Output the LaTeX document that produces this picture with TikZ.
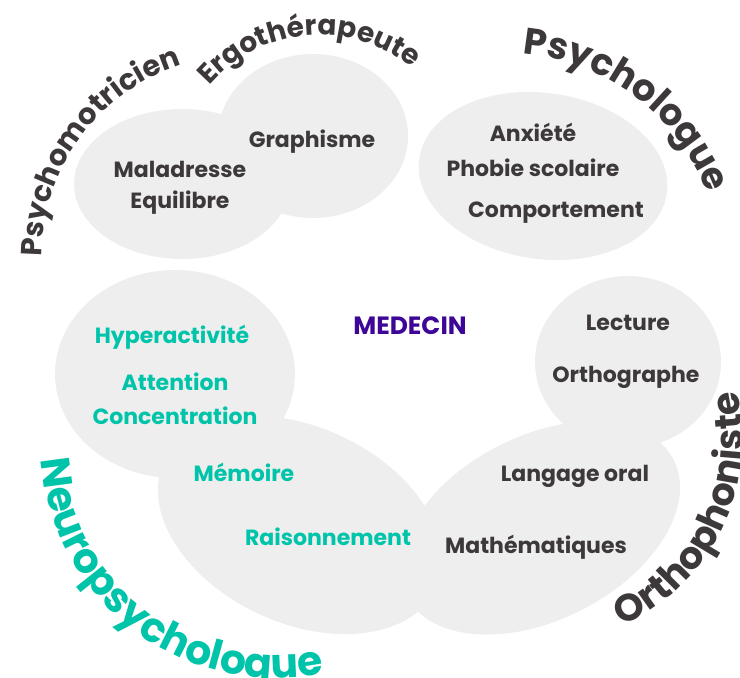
\documentclass[tikz,border=0pt]{standalone}
\usepackage{fontspec}
\setmainfont{Poppins}
\usetikzlibrary{positioning,decorations.text}
\definecolor{inkgrey}{RGB}{61,57,58}
\definecolor{tealgreen}{RGB}{0,196,170}
\definecolor{medpurple}{RGB}{62,6,150}
\definecolor{blobgrey}{RGB}{237,238,237}
\newcommand{\arcfont}[1]{\fontsize{#1}{#1}\selectfont\bfseries}

\begin{document}
\begin{tikzpicture}[
  x=1pt,y=1pt,
  every node/.style={font=\fontsize{22}{26}\selectfont\bfseries,inner sep=0pt},
  blob/.style={fill=blobgrey},
  term/.style={text=inkgrey,anchor=base},
  neuro/.style={text=tealgreen,anchor=base},
  arclabel/.style={decorate,decoration={text along path,text align=center,text color=#1}}
]
  \useasboundingbox (0,0) rectangle (740,-678);

  % bubbles
  \fill[blob] (182,-184) ellipse[x radius=108,y radius=75];
  \fill[blob] (313,-136) ellipse[x radius=95,y radius=82];
  \fill[blob,rotate around={-8:(543,-176)}] (543,-176) ellipse[x radius=125,y radius=83];
  \fill[blob] (175,-374) ellipse[x radius=120,y radius=104];
  \fill[blob,rotate around={-25:(300,-525)}] (300,-525) ellipse[x radius=150,y radius=98];
  \fill[blob,rotate around={27:(540,-528)}] (540,-528) ellipse[x radius=150,y radius=92];
  \fill[blob] (628,-362) ellipse[x radius=93,y radius=86];

  % professions
  \path[arclabel=inkgrey,decoration={text={|\arcfont{29}|Psychomotricien}}]
    (244,-257) ++(204:202) arc[start angle=204,end angle=84,radius=202];
  \path[arclabel=inkgrey,decoration={text={|\arcfont{28}|Ergothérapeute}}]
    (320,-181) ++(165:146) arc[start angle=165,end angle=25,radius=146];
  \path[arclabel=inkgrey,decoration={text={|\arcfont{37}|Psychologue}}]
    (504,-271) ++(113:218) arc[start angle=113,end angle=-7,radius=218];
  \path[arclabel=inkgrey,decoration={text={|\arcfont{38}|Orthophoniste}}]
    (536,-438) ++(-86:207) arc[start angle=-86,end angle=34,radius=207];
  \path[arclabel=tealgreen,decoration={text={|\arcfont{41}|Neuropsychologue}}]
    (275,-444) ++(173:234) arc[start angle=173,end angle=293,radius=234];

  % troubles
  \node[term] (graphisme) at (312,-147) {Graphisme};
  \node[term] (maladresse) at (180,-177) {Maladresse};
  \node[term,below=31pt of maladresse.base,anchor=base] (equilibre) {Equilibre};
  \node[term] (anxiete) at (533,-141) {Anxiété};
  \node[term,below=35pt of anxiete.base,anchor=base] (phobie) {Phobie scolaire};
  \node[term] (comportement) at (556,-217) {Comportement};

  \node[text=medpurple,anchor=base,font=\fontsize{25}{30}\selectfont\bfseries] (medecin) at (410,-334) {MEDECIN};

  \node[neuro] (hyperactivite) at (172,-343) {Hyperactivité};
  \node[neuro] (attention) at (175,-390) {Attention};
  \node[neuro,below=34pt of attention.base,anchor=base] (concentration) {Concentration};
  \node[neuro] (memoire) at (244,-481) {Mémoire};
  \node[neuro] (raisonnement) at (328,-545) {Raisonnement};

  \node[term] (lecture) at (628,-330) {Lecture};
  \node[term] (orthographe) at (626,-382) {Orthographe};
  \node[term] (langage) at (575,-481) {Langage oral};
  \node[term] (maths) at (536,-553) {Mathématiques};
\end{tikzpicture}
\end{document}
